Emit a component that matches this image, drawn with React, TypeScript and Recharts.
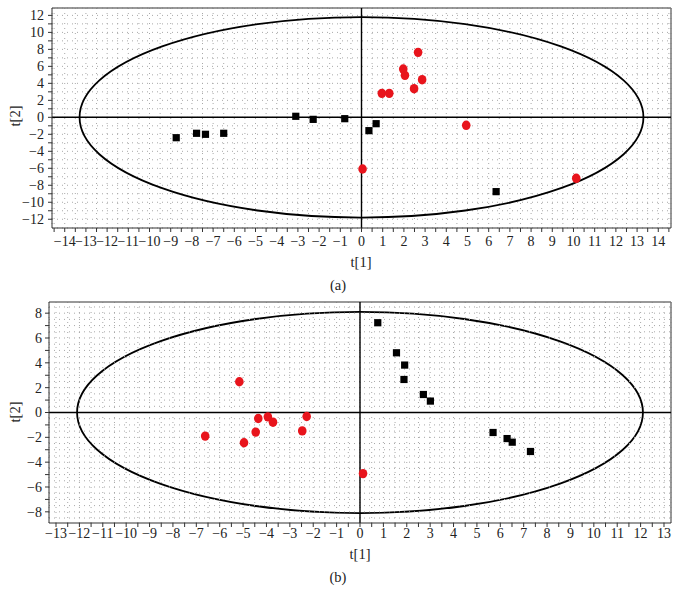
import React from 'react';
import {
  ScatterChart,
  Scatter,
  XAxis,
  YAxis,
  CartesianGrid,
  ReferenceLine,
  ReferenceArea,
} from 'recharts';

// ---------- Panel (a) ----------
const A_BLACK_T1 = [-8.74, -7.78, -7.36, -6.5, -3.1, -2.28, -0.79, 0.69, 0.35, 6.35];
const A_BLACK_T2 = [-2.4, -1.88, -2.0, -1.88, 0.12, -0.24, -0.16, -0.75, -1.57, -8.75];
const A_RED_T1 = [2.67, 1.97, 2.05, 2.86, 2.48, 0.96, 1.31, 4.94, 0.05, 10.13];
const A_RED_T2 = [7.65, 5.68, 4.94, 4.43, 3.37, 2.82, 2.82, -0.94, -6.08, -7.18];
const A_X_DOMAIN = [-14.6, 14.6];
const A_Y_DOMAIN = [-13.03, 12.87];
const A_ELLIPSE = { rx: 13.3, ry: 11.8 };

// ---------- Panel (b) ----------
const B_BLACK_T1 = [0.76, 1.56, 1.91, 1.88, 2.71, 3.01, 5.69, 6.29, 6.51, 7.29];
const B_BLACK_T2 = [7.23, 4.81, 3.82, 2.66, 1.45, 0.92, -1.61, -2.1, -2.39, -3.14];
const B_RED_T1 = [-5.16, -4.35, -3.94, -3.72, -2.28, -2.47, -4.46, -4.96, -6.62, 0.13];
const B_RED_T2 = [2.48, -0.48, -0.35, -0.78, -0.32, -1.48, -1.58, -2.44, -1.9, -4.92];
const B_X_DOMAIN = [-13.3, 13.3];
const B_Y_DOMAIN = [-8.9, 8.9];
const B_ELLIPSE = { rx: 12.1, ry: 8.1 };

const range = (a: number, b: number, s: number) => {
  const out: number[] = [];
  for (let v = a; v <= b + 1e-9; v += s) out.push(Math.round(v * 100) / 100);
  return out;
};

const A_X_TICKS = range(-14.5, 14.5, 0.5);
const A_Y_TICKS = range(-12, 12, 1);
const B_X_TICKS = range(-13, 13, 0.5);
const B_Y_TICKS = range(-8, 8, 1);
const B_GRID_Y = range(-8.5, 8.5, 0.5);

const zip = (xs: number[], ys: number[]) => xs.map((x, i) => ({ x, y: ys[i] }));

const minus = (v: number) => String(v).replace('-', '\u2212');
const fmtX = (v: number) => (Number.isInteger(v) ? minus(v) : '');
const fmtY = (v: number) => (v % 2 === 0 ? minus(v) : '');

const RED = '#e8141c';
const FONT = '"Liberation Serif", "DejaVu Serif", serif';
const tickStyle = { fontSize: 14, fill: '#222', fontFamily: FONT };
const GRID = '#a8a8a8';
const GRID_DASH = '1 4';

const Square = (p: any) => (
  <rect x={p.cx - 3.6} y={p.cy - 3.6} width={7.2} height={7.2} fill="#000" />
);
const Dot = (p: any) => <ellipse cx={p.cx} cy={p.cy} rx={4.3} ry={4.7} fill={RED} />;
const EllipseShape = (p: any) => (
  <ellipse
    cx={p.x + p.width / 2}
    cy={p.y + p.height / 2}
    rx={Math.abs(p.width) / 2}
    ry={Math.abs(p.height) / 2}
    fill="none"
    stroke="#000"
    strokeWidth={1.8}
  />
);

const Label = ({ x, y, text, rotate }: { x: number; y: number; text: string; rotate?: boolean }) => (
  <div
    style={{
      position: 'absolute',
      left: x,
      top: y,
      transform: `translate(-50%, -50%)${rotate ? ' rotate(-90deg)' : ''}`,
      fontFamily: FONT,
      fontSize: 14.5,
      color: '#222',
      whiteSpace: 'nowrap',
      lineHeight: 1,
    }}
  >
    {text}
  </div>
);

export default function App() {
  return (
    <div style={{ position: 'absolute', left: 0, top: 0, width: 680, height: 604, background: '#fff' }}>
      <div style={{ position: 'absolute', left: 0, top: 0 }}>
        <ScatterChart width={680} height={300} margin={{ top: 8, right: 9, bottom: 0, left: 0 }}>
          <CartesianGrid stroke={GRID} strokeDasharray={GRID_DASH} />
          <XAxis
            type="number"
            dataKey="x"
            domain={A_X_DOMAIN}
            ticks={A_X_TICKS}
            allowDataOverflow
            interval={0}
            height={72}
            tickFormatter={fmtX}
            tick={tickStyle}
            tickSize={4}
            tickMargin={4}
            stroke="#333"
          />
          <YAxis
            type="number"
            dataKey="y"
            domain={A_Y_DOMAIN}
            ticks={A_Y_TICKS}
            allowDataOverflow
            interval={0}
            width={52}
            tickFormatter={fmtY}
            tick={tickStyle}
            tickSize={4}
            tickMargin={4}
            stroke="#333"
          />
          <ReferenceLine y={A_Y_DOMAIN[1]} stroke="#777" strokeWidth={1.5} />
          <ReferenceLine x={A_X_DOMAIN[1]} stroke="#777" strokeWidth={1.5} />
          <ReferenceArea
            x1={-A_ELLIPSE.rx}
            x2={A_ELLIPSE.rx}
            y1={-A_ELLIPSE.ry}
            y2={A_ELLIPSE.ry}
            shape={EllipseShape}
          />
          <ReferenceLine x={0} stroke="#000" strokeWidth={1.4} />
          <ReferenceLine y={0} stroke="#000" strokeWidth={1.4} />
          <Scatter data={zip(A_BLACK_T1, A_BLACK_T2)} shape={Square} isAnimationActive={false} />
          <Scatter data={zip(A_RED_T1, A_RED_T2)} shape={Dot} isAnimationActive={false} />
        </ScatterChart>
      </div>
      <div style={{ position: 'absolute', left: 0, top: 300 }}>
        <ScatterChart width={680} height={304} margin={{ top: 2, right: 9, bottom: 0, left: 0 }}>
          <CartesianGrid stroke={GRID} strokeDasharray={GRID_DASH} horizontal={false} />
          <XAxis
            type="number"
            dataKey="x"
            domain={B_X_DOMAIN}
            ticks={B_X_TICKS}
            allowDataOverflow
            interval={0}
            height={81}
            tickFormatter={fmtX}
            tick={tickStyle}
            tickSize={4}
            tickMargin={1}
            stroke="#333"
          />
          <YAxis
            type="number"
            dataKey="y"
            domain={B_Y_DOMAIN}
            ticks={B_Y_TICKS}
            allowDataOverflow
            interval={0}
            width={49}
            tickFormatter={fmtY}
            tick={tickStyle}
            tickSize={4}
            tickMargin={3}
            stroke="#333"
          />
          {B_GRID_Y.map((v) => (
            <ReferenceLine key={'g' + v} y={v} stroke={GRID} strokeDasharray={GRID_DASH} />
          ))}
          <ReferenceLine y={B_Y_DOMAIN[1]} stroke="#777" strokeWidth={1.5} />
          <ReferenceLine x={B_X_DOMAIN[1]} stroke="#777" strokeWidth={1.5} />
          <ReferenceArea
            x1={-B_ELLIPSE.rx}
            x2={B_ELLIPSE.rx}
            y1={-B_ELLIPSE.ry}
            y2={B_ELLIPSE.ry}
            shape={EllipseShape}
          />
          <ReferenceLine x={0} stroke="#000" strokeWidth={1.4} />
          <ReferenceLine y={0} stroke="#000" strokeWidth={1.4} />
          <Scatter data={zip(B_BLACK_T1, B_BLACK_T2)} shape={Square} isAnimationActive={false} />
          <Scatter data={zip(B_RED_T1, B_RED_T2)} shape={Dot} isAnimationActive={false} />
        </ScatterChart>
      </div>
      <Label x={15} y={116} text="t[2]" rotate />
      <Label x={361} y={262} text="t[1]" />
      <Label x={338} y={285} text="(a)" />
      <Label x={15} y={412} text="t[2]" rotate />
      <Label x={360} y={554} text="t[1]" />
      <Label x={338} y={577} text="(b)" />
    </div>
  );
}
